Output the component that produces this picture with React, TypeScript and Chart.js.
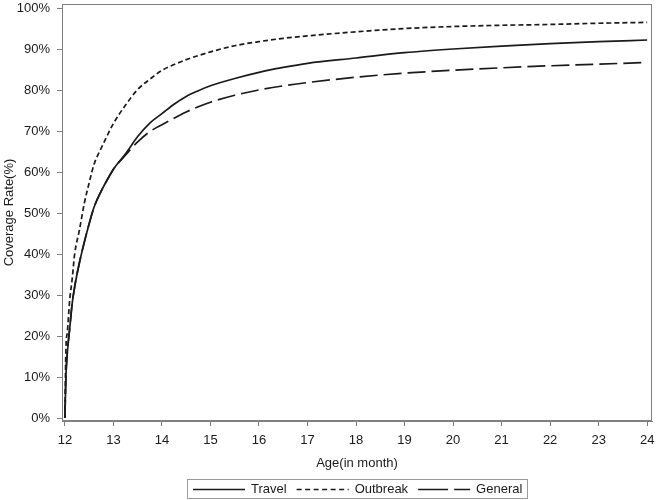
import React, { useEffect, useRef } from "react";
import { Chart, registerables } from "chart.js";

Chart.register(...registerables);

// Age in months (shared x values)
const ages = [12.0, 12.02, 12.05, 12.1, 12.15, 12.2, 12.3, 12.4, 12.5, 12.6, 12.75, 12.9, 13.0, 13.25, 13.5, 13.75, 14.0, 14.25, 14.5, 14.75, 15.0, 15.5, 16, 16.5, 17, 18, 19, 20, 21, 22, 23, 24];
// Coverage rate (%) per series
const travel = [0, 10, 16, 22, 28, 32, 38, 43, 47.5, 51.5, 55.5, 58.8, 60.8, 64.6, 68.8, 72.1, 74.4, 76.7, 78.6, 80.0, 81.2, 83.0, 84.5, 85.7, 86.7, 88.0, 89.3, 90.2, 90.9, 91.5, 92.0, 92.4];
const outbreak = [0, 16.6, 21, 29, 34, 40, 46, 52.5, 57.5, 62, 66, 69.7, 72, 76.5, 80.3, 82.8, 85.0, 86.4, 87.6, 88.6, 89.5, 91.0, 92.0, 92.8, 93.4, 94.4, 95.2, 95.7, 96.0, 96.2, 96.5, 96.7];
const general = [0, 10, 16, 22, 28, 32, 38, 43, 47.5, 51.5, 55.5, 58.8, 60.8, 64.3, 67.5, 70.0, 71.7, 73.3, 74.8, 76.1, 77.2, 78.9, 80.2, 81.2, 82.0, 83.3, 84.3, 85.0, 85.6, 86.1, 86.5, 86.9];

const seriesLabels = ["Travel", "Outbreak", "General"];
const xTicks = [12, 13, 14, 15, 16, 17, 18, 19, 20, 21, 22, 23, 24];
const yTicks = [0, 10, 20, 30, 40, 50, 60, 70, 80, 90, 100];

const FONT_FAMILY = '"Liberation Sans", Arial, sans-serif';
const INK = "#1a1a1a";
const FRAME = "#808080";

const plotDashes = [[], [5, 3], [18, 6]];
const legendDashes = [[], [5, 3.5], [30, 6]];

const framePlugin = {
  id: "frameAndLegend",
  afterDraw(chart: any) {
    const ctx = chart.ctx as CanvasRenderingContext2D;
    const ca = chart.chartArea;
    ctx.save();
    // frame around plot area
    ctx.strokeStyle = FRAME;
    ctx.lineWidth = 1;
    ctx.setLineDash([]);
    ctx.strokeRect(Math.round(ca.left) + 0.5, Math.round(ca.top) + 0.5, Math.round(ca.right - ca.left) - 1, Math.round(ca.bottom - ca.top) - 1);

    // legend
    ctx.font = `13px ${FONT_FAMILY}`;
    const sample = 52;
    const gap = 6;
    const spacing = 10;
    const padL = 6;
    const padR = 5;
    const widths = seriesLabels.map((l) => ctx.measureText(l).width);
    const total = widths.reduce((a, w) => a + sample + gap + w, 0) + spacing * (seriesLabels.length - 1) + padL + padR;
    const cx = (ca.left + ca.right) / 2;
    let x = Math.round(cx - total / 2);
    const top = chart.height - 21;
    const h = 19;
    const cy = top + h / 2;
    ctx.strokeStyle = "#9a9a9a";
    ctx.strokeRect(x + 0.5, top + 0.5, Math.round(total), h);
    x += padL;
    seriesLabels.forEach((label, i) => {
      ctx.strokeStyle = INK;
      ctx.lineWidth = 1.6;
      ctx.setLineDash(legendDashes[i]);
      ctx.beginPath();
      ctx.moveTo(x, Math.round(cy) + 0.5);
      ctx.lineTo(x + sample, Math.round(cy) + 0.5);
      ctx.stroke();
      ctx.setLineDash([]);
      x += sample + gap;
      ctx.fillStyle = INK;
      ctx.textBaseline = "middle";
      ctx.textAlign = "left";
      ctx.fillText(label, x, cy + 1);
      x += widths[i] + spacing;
    });
    ctx.restore();
  },
};

export default function App() {
  const canvasRef = useRef<HTMLCanvasElement | null>(null);

  useEffect(() => {
    if (!canvasRef.current) return;
    const series = [travel, outbreak, general];
    const chart = new Chart(canvasRef.current, {
      type: "line",
      data: {
        datasets: series.map((vals, i) => ({
          label: seriesLabels[i],
          data: ages.map((a, j) => ({ x: a, y: vals[j] })),
          borderColor: INK,
          borderWidth: 1.7,
          borderDash: plotDashes[i],
          pointRadius: 0,
          cubicInterpolationMode: "monotone" as const,
          fill: false,
        })),
      },
      options: {
        responsive: false,
        animation: false,
        layout: { padding: { top: 4, right: 4, left: 0, bottom: 29 } },
        plugins: {
          legend: { display: false },
          tooltip: { enabled: false },
        },
        scales: {
          x: {
            type: "linear",
            min: 11.94,
            max: 24.1,
            afterBuildTicks: (s: any) => {
              s.ticks = xTicks.map((v) => ({ value: v }));
            },
            afterFit: (s: any) => {
              s.height = 50;
              s.paddingLeft = 0;
              s.paddingRight = 0;
            },
            ticks: {
              autoSkip: false,
              maxRotation: 0,
              padding: 7,
              color: INK,
              font: { family: FONT_FAMILY, size: 13 },
              callback: (v: any) => String(v),
            },
            grid: { display: true, drawOnChartArea: false, drawTicks: true, tickLength: 5, color: FRAME },
            border: { display: true, color: FRAME },
            title: {
              display: true,
              text: "Age(in month)",
              color: INK,
              font: { family: FONT_FAMILY, size: 13 },
              padding: { top: 4, bottom: 0 },
            },
          },
          y: {
            type: "linear",
            min: -0.73,
            max: 101.2,
            afterBuildTicks: (s: any) => {
              s.ticks = yTicks.map((v) => ({ value: v }));
            },
            afterFit: (s: any) => {
              s.width = 62;
              s.paddingTop = 0;
              s.paddingBottom = 0;
            },
            ticks: {
              autoSkip: false,
              padding: 7,
              color: INK,
              font: { family: FONT_FAMILY, size: 13 },
              callback: (v: any) => `${v}%`,
            },
            grid: { display: true, drawOnChartArea: false, drawTicks: true, tickLength: 5, color: FRAME },
            border: { display: true, color: FRAME },
            title: {
              display: true,
              text: "Coverage Rate(%)",
              color: INK,
              font: { family: FONT_FAMILY, size: 13 },
              padding: { top: 2, bottom: 0 },
            },
          },
        },
      },
      plugins: [framePlugin],
    });
    return () => chart.destroy();
  }, []);

  return (
    <div style={{ position: "absolute", left: 0, top: 0, width: 656, height: 500, background: "#fff" }}>
      <canvas ref={canvasRef} width={656} height={500} style={{ display: "block" }} />
    </div>
  );
}
